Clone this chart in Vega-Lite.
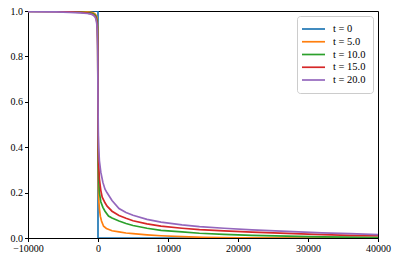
{
  "$schema": "https://vega.github.io/schema/vega-lite/v6.json",
  "autosize": {"type": "none"},
  "width": 350,
  "height": 227,
  "padding": {"left": 28, "top": 11, "right": 21, "bottom": 25},
  "background": "white",
  "config": {
    "view": {"stroke": "black", "strokeWidth": 1},
    "axis": {"grid": false, "domainColor": "black", "tickColor": "black", "tickSize": 3.5, "labelColor": "black", "labelFont": "Liberation Serif", "labelFontSize": 10, "labelPadding": 2, "title": null, "labelFlush": false},
    "legend": {"labelFont": "Liberation Serif", "labelFontSize": 10.5, "labelColor": "black"}
  },
  "data": {"values": [
    {"t":"t = 0","i":0,"x":-10000,"y":1},{"t":"t = 0","i":1,"x":0,"y":1},{"t":"t = 0","i":2,"x":0,"y":0},{"t":"t = 0","i":3,"x":40000,"y":0},

    {"t":"t = 5.0","i":0,"x":-10000,"y":0.999},{"t":"t = 5.0","i":1,"x":-6000,"y":0.999},{"t":"t = 5.0","i":2,"x":-4000,"y":0.998},{"t":"t = 5.0","i":3,"x":-2500,"y":0.997},{"t":"t = 5.0","i":4,"x":-1500,"y":0.996},{"t":"t = 5.0","i":5,"x":-1000,"y":0.994},{"t":"t = 5.0","i":6,"x":-700,"y":0.992},{"t":"t = 5.0","i":7,"x":-450,"y":0.988},{"t":"t = 5.0","i":8,"x":-300,"y":0.983},{"t":"t = 5.0","i":9,"x":-180,"y":0.975},{"t":"t = 5.0","i":10,"x":-100,"y":0.96},{"t":"t = 5.0","i":11,"x":-40,"y":0.91},{"t":"t = 5.0","i":12,"x":0,"y":0.45},
    {"t":"t = 5.0","i":13,"x":50,"y":0.22},{"t":"t = 5.0","i":14,"x":100,"y":0.17},{"t":"t = 5.0","i":15,"x":200,"y":0.13},{"t":"t = 5.0","i":16,"x":330,"y":0.096},{"t":"t = 5.0","i":17,"x":500,"y":0.075},{"t":"t = 5.0","i":18,"x":800,"y":0.052},{"t":"t = 5.0","i":19,"x":1200,"y":0.042},{"t":"t = 5.0","i":20,"x":2000,"y":0.032},{"t":"t = 5.0","i":21,"x":3000,"y":0.027},{"t":"t = 5.0","i":22,"x":4000,"y":0.022},{"t":"t = 5.0","i":23,"x":5000,"y":0.019},{"t":"t = 5.0","i":24,"x":7000,"y":0.014},{"t":"t = 5.0","i":25,"x":9000,"y":0.010},{"t":"t = 5.0","i":26,"x":12000,"y":0.006},{"t":"t = 5.0","i":27,"x":15000,"y":0.003},{"t":"t = 5.0","i":28,"x":20000,"y":0.001},{"t":"t = 5.0","i":29,"x":30000,"y":0.0},{"t":"t = 5.0","i":30,"x":40000,"y":0.0},

    {"t":"t = 10.0","i":0,"x":-10000,"y":0.998},{"t":"t = 10.0","i":1,"x":-6000,"y":0.998},{"t":"t = 10.0","i":2,"x":-4000,"y":0.997},{"t":"t = 10.0","i":3,"x":-2500,"y":0.995},{"t":"t = 10.0","i":4,"x":-1500,"y":0.993},{"t":"t = 10.0","i":5,"x":-1000,"y":0.991},{"t":"t = 10.0","i":6,"x":-700,"y":0.988},{"t":"t = 10.0","i":7,"x":-450,"y":0.983},{"t":"t = 10.0","i":8,"x":-300,"y":0.976},{"t":"t = 10.0","i":9,"x":-180,"y":0.965},{"t":"t = 10.0","i":10,"x":-100,"y":0.945},{"t":"t = 10.0","i":11,"x":-40,"y":0.88},{"t":"t = 10.0","i":12,"x":0,"y":0.5},
    {"t":"t = 10.0","i":13,"x":50,"y":0.32},{"t":"t = 10.0","i":14,"x":100,"y":0.26},{"t":"t = 10.0","i":15,"x":200,"y":0.20},{"t":"t = 10.0","i":16,"x":400,"y":0.16},{"t":"t = 10.0","i":17,"x":700,"y":0.135},{"t":"t = 10.0","i":18,"x":1000,"y":0.118},{"t":"t = 10.0","i":19,"x":1500,"y":0.097},{"t":"t = 10.0","i":20,"x":2000,"y":0.088},{"t":"t = 10.0","i":21,"x":3000,"y":0.075},{"t":"t = 10.0","i":22,"x":4000,"y":0.064},{"t":"t = 10.0","i":23,"x":5000,"y":0.055},{"t":"t = 10.0","i":24,"x":7000,"y":0.043},{"t":"t = 10.0","i":25,"x":9000,"y":0.034},{"t":"t = 10.0","i":26,"x":12000,"y":0.027},{"t":"t = 10.0","i":27,"x":14500,"y":0.021},{"t":"t = 10.0","i":28,"x":18000,"y":0.016},{"t":"t = 10.0","i":29,"x":22000,"y":0.012},{"t":"t = 10.0","i":30,"x":27000,"y":0.008},{"t":"t = 10.0","i":31,"x":32000,"y":0.005},{"t":"t = 10.0","i":32,"x":36000,"y":0.004},{"t":"t = 10.0","i":33,"x":40000,"y":0.003},

    {"t":"t = 15.0","i":0,"x":-10000,"y":0.998},{"t":"t = 15.0","i":1,"x":-6000,"y":0.997},{"t":"t = 15.0","i":2,"x":-4000,"y":0.996},{"t":"t = 15.0","i":3,"x":-2500,"y":0.994},{"t":"t = 15.0","i":4,"x":-1500,"y":0.991},{"t":"t = 15.0","i":5,"x":-1000,"y":0.988},{"t":"t = 15.0","i":6,"x":-700,"y":0.984},{"t":"t = 15.0","i":7,"x":-450,"y":0.978},{"t":"t = 15.0","i":8,"x":-300,"y":0.97},{"t":"t = 15.0","i":9,"x":-180,"y":0.955},{"t":"t = 15.0","i":10,"x":-100,"y":0.93},{"t":"t = 15.0","i":11,"x":-40,"y":0.85},{"t":"t = 15.0","i":12,"x":0,"y":0.55},
    {"t":"t = 15.0","i":13,"x":50,"y":0.38},{"t":"t = 15.0","i":14,"x":100,"y":0.32},{"t":"t = 15.0","i":15,"x":200,"y":0.26},{"t":"t = 15.0","i":16,"x":400,"y":0.21},{"t":"t = 15.0","i":17,"x":600,"y":0.18},{"t":"t = 15.0","i":18,"x":1000,"y":0.155},{"t":"t = 15.0","i":19,"x":1300,"y":0.14},{"t":"t = 15.0","i":20,"x":2000,"y":0.118},{"t":"t = 15.0","i":21,"x":3000,"y":0.099},{"t":"t = 15.0","i":22,"x":4000,"y":0.087},{"t":"t = 15.0","i":23,"x":5000,"y":0.076},{"t":"t = 15.0","i":24,"x":7000,"y":0.062},{"t":"t = 15.0","i":25,"x":9000,"y":0.052},{"t":"t = 15.0","i":26,"x":12000,"y":0.043},{"t":"t = 15.0","i":27,"x":14500,"y":0.037},{"t":"t = 15.0","i":28,"x":18000,"y":0.031},{"t":"t = 15.0","i":29,"x":22000,"y":0.026},{"t":"t = 15.0","i":30,"x":27000,"y":0.020},{"t":"t = 15.0","i":31,"x":32000,"y":0.015},{"t":"t = 15.0","i":32,"x":36000,"y":0.012},{"t":"t = 15.0","i":33,"x":40000,"y":0.010},

    {"t":"t = 20.0","i":0,"x":-10000,"y":0.997},{"t":"t = 20.0","i":1,"x":-6000,"y":0.996},{"t":"t = 20.0","i":2,"x":-4000,"y":0.994},{"t":"t = 20.0","i":3,"x":-2500,"y":0.992},{"t":"t = 20.0","i":4,"x":-1500,"y":0.989},{"t":"t = 20.0","i":5,"x":-1000,"y":0.986},{"t":"t = 20.0","i":6,"x":-700,"y":0.982},{"t":"t = 20.0","i":7,"x":-450,"y":0.975},{"t":"t = 20.0","i":8,"x":-300,"y":0.965},{"t":"t = 20.0","i":9,"x":-180,"y":0.945},{"t":"t = 20.0","i":10,"x":-100,"y":0.91},{"t":"t = 20.0","i":11,"x":-40,"y":0.82},{"t":"t = 20.0","i":12,"x":0,"y":0.6},
    {"t":"t = 20.0","i":13,"x":50,"y":0.45},{"t":"t = 20.0","i":14,"x":100,"y":0.40},{"t":"t = 20.0","i":15,"x":200,"y":0.34},{"t":"t = 20.0","i":16,"x":400,"y":0.29},{"t":"t = 20.0","i":17,"x":700,"y":0.245},{"t":"t = 20.0","i":18,"x":1000,"y":0.215},{"t":"t = 20.0","i":19,"x":1300,"y":0.199},{"t":"t = 20.0","i":20,"x":2000,"y":0.165},{"t":"t = 20.0","i":21,"x":3000,"y":0.13},{"t":"t = 20.0","i":22,"x":4000,"y":0.112},{"t":"t = 20.0","i":23,"x":5000,"y":0.100},{"t":"t = 20.0","i":24,"x":7000,"y":0.082},{"t":"t = 20.0","i":25,"x":9000,"y":0.070},{"t":"t = 20.0","i":26,"x":12000,"y":0.058},{"t":"t = 20.0","i":27,"x":14500,"y":0.050},{"t":"t = 20.0","i":28,"x":18000,"y":0.043},{"t":"t = 20.0","i":29,"x":22000,"y":0.036},{"t":"t = 20.0","i":30,"x":27000,"y":0.029},{"t":"t = 20.0","i":31,"x":32000,"y":0.023},{"t":"t = 20.0","i":32,"x":36000,"y":0.019},{"t":"t = 20.0","i":33,"x":40000,"y":0.015}
  ]},
  "mark": {"type": "line", "strokeWidth": 1.7, "clip": true},
  "encoding": {
    "x": {"field": "x", "type": "quantitative", "scale": {"domain": [-10000, 40000], "nice": false, "zero": false}, "axis": {"values": [-10000, 0, 10000, 20000, 30000, 40000], "format": "d"}},
    "y": {"field": "y", "type": "quantitative", "scale": {"domain": [0, 1], "nice": false}, "axis": {"values": [0, 0.2, 0.4, 0.6, 0.8, 1.0], "format": ".1f"}},
    "color": {"field": "t", "type": "nominal",
      "scale": {"domain": ["t = 0", "t = 5.0", "t = 10.0", "t = 15.0", "t = 20.0"], "range": ["#1f77b4", "#ff7f0e", "#2ca02c", "#d62728", "#9467bd"]},
      "legend": {"title": null, "orient": "top-right", "offset": 5, "symbolType": "M-1.6,0H3.0", "symbolSize": 100, "symbolStrokeWidth": 1.7, "symbolFillColor": "transparent", "strokeColor": "#cccccc", "fillColor": "white", "cornerRadius": 3, "padding": 7, "rowPadding": 0.75, "labelOffset": 17}},
    "order": {"field": "i", "type": "quantitative"}
  }
}
